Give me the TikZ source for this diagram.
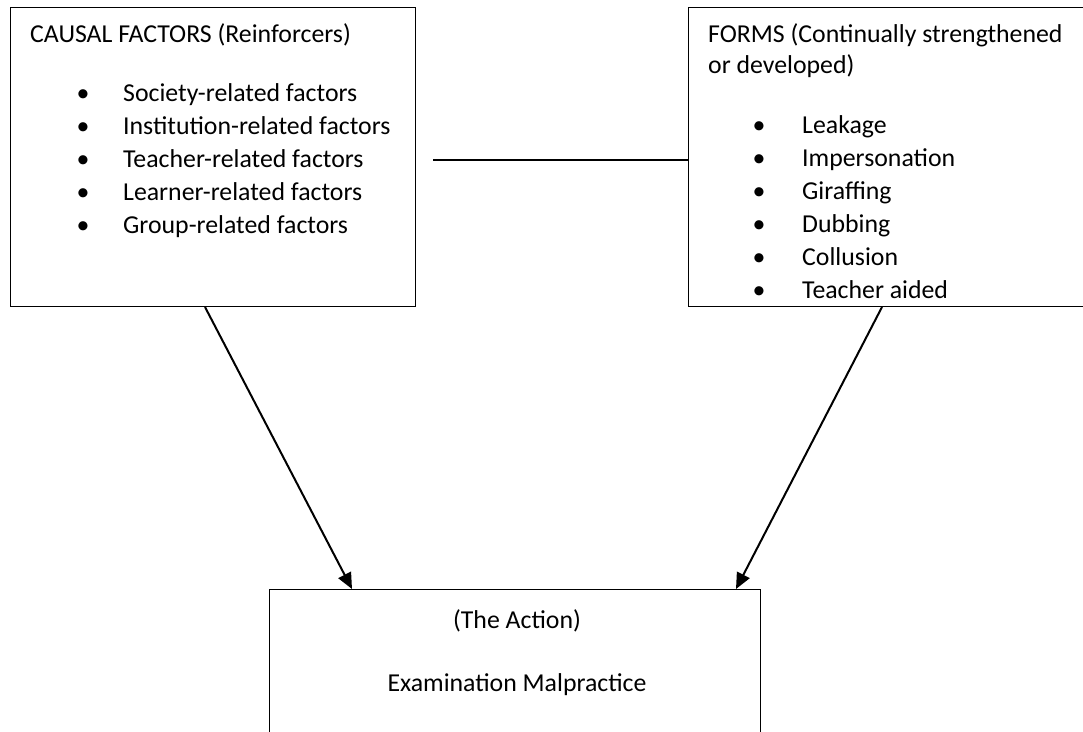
\documentclass[tikz,border=0pt]{standalone}
\usepackage{fontspec}
\setmainfont{Carlito}
\usetikzlibrary{arrows.meta, positioning, calc}

\begin{document}
\begin{tikzpicture}[x=1pt, y=1pt,
    frame/.style={draw, line width=1pt, anchor=north west, inner sep=0pt},
    txt/.style={anchor=base west, inner sep=0pt, font=\fontsize{25.8}{33}\selectfont},
    ctxt/.style={txt, anchor=base},
    myarr/.style={-{Triangle[length=16pt,width=14pt]}, line width=2pt},
]
\clip (0,0) rectangle (1083,-731);
%% -- The three boxes --
\node[frame, minimum width=405pt, minimum height=299pt] (causes) at (10,-7) {};
\node[frame, minimum width=420pt, minimum height=299pt] (forms) at (688,-7) {};
\node[frame, minimum width=491pt, minimum height=180pt] (action) at (269,-589) {};
%% -- Causal factors --
\node[txt] (ctitle) at (30,-42) {CAUSAL FACTORS (Reinforcers)};
\foreach \lbl [count=\i] in {Society-related factors, Institution-related factors,
    Teacher-related factors, Learner-related factors, Group-related factors}{
  \node[ctxt] (cbul\i) at (83,{-101-33*(\i-1)}) {\textbullet};
  \node[txt] (citem\i) at (123,{-101-33*(\i-1)}) {\lbl};
}
%% -- Forms --
\node[txt] (ftitle) at (708,-42) {FORMS (Continually strengthened};
\node[txt] (ftitle2) at (708,-73) {or developed)};
\foreach \lbl [count=\i] in {Leakage, Impersonation, Giraffing, Dubbing,
    Collusion, Teacher aided}{
  \node[ctxt] (fbul\i) at (759,{-133-33*(\i-1)}) {\textbullet};
  \node[txt] (fitem\i) at (802,{-133-33*(\i-1)}) {\lbl};
}
%% -- The action --
\node[ctxt] (atitle) at (517,-628) {(The Action)};
\node[ctxt] (aname) at (517,-691) {Examination Malpractice};
%% -- Connectors --
\coordinate (linkstart) at (433,-160);
\draw[line width=1.5pt] (linkstart) -- (linkstart -| forms.west);
\draw[myarr] ($(causes.south west)+(195,0)$) -- ($(action.north west)+(83,0)$);
\draw[myarr] ($(forms.south west)+(194,0)$) -- ($(action.north east)+(-25,0)$);
\end{tikzpicture}
\end{document}
